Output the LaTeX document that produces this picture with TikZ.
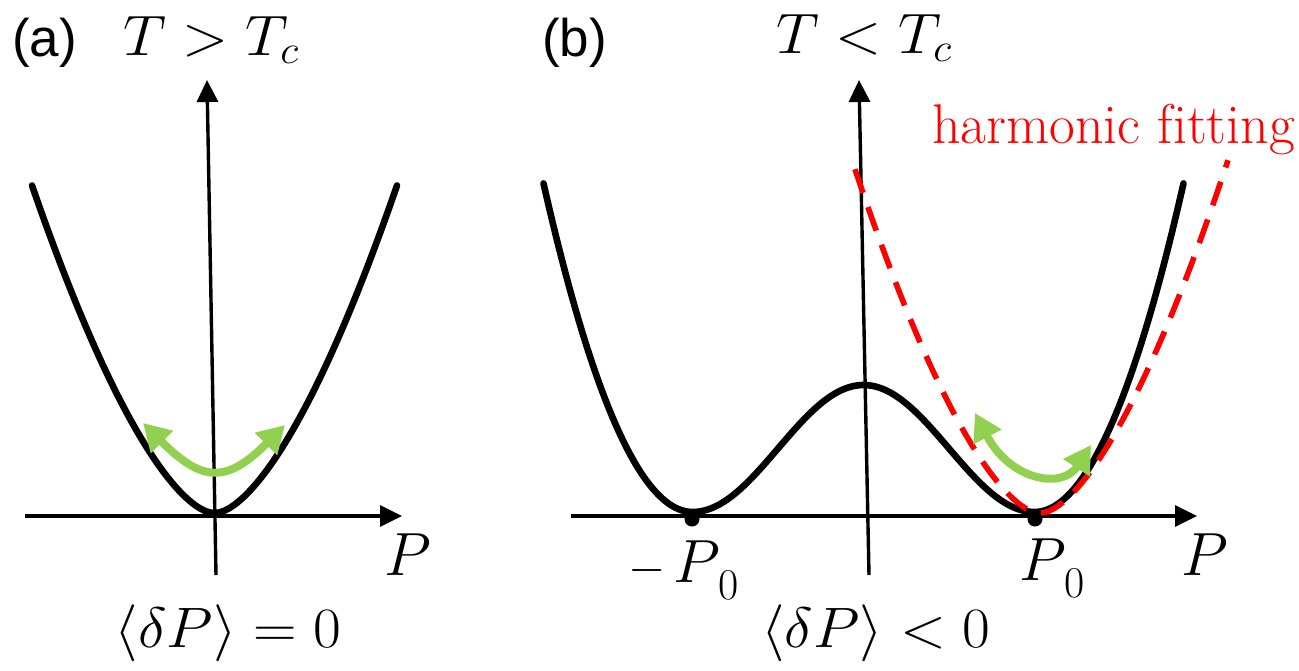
\RequirePackage{fix-cm}
\documentclass[tikz,border=0pt]{standalone}
\usepackage{fontspec}
\newfontfamily\sansf{Liberation Sans}
\usetikzlibrary{arrows.meta}
\definecolor{fitred}{RGB}{255,0,0}
\definecolor{oscgreen}{RGB}{146,208,80}
\tikzset{
  axisline/.style={line width=3.4pt,-{Triangle[length=22pt,width=21pt]}},
  potential/.style={line width=6.6pt,line join=round,line cap=round},
  fitline/.style={draw=fitred,line width=5.6pt,dash pattern=on 25pt off 15pt},
  oscarrow/.style={draw=oscgreen,line width=8pt,{Triangle[length=27pt,width=30pt]}-{Triangle[length=27pt,width=30pt]}},
  panellabel/.style={inner sep=0pt,anchor=base west,font=\sansf\fontsize{53}{60}\selectfont},
  mathlabel/.style={inner sep=0pt,anchor=base,font=\fontsize{57}{64}\selectfont},
  plabel/.style={inner sep=0pt,anchor=base west,font=\fontsize{61}{66}\selectfont},
  dot/.style={circle,fill=black,inner sep=0pt,minimum size=15pt}
}
\newcommand{\subzero}{\raisebox{-17pt}{\fontsize{44}{44}\selectfont 0}}
\begin{document}
\begin{tikzpicture}[x=1pt,y=-1pt]
\useasboundingbox (0,0) rectangle (1299,670);

% ---------- panel (a) ----------
\coordinate (ahl) at (25,516);
\coordinate (ahr) at (402,516);
\coordinate (avb) at (216,575);
\coordinate (avt) at (207,80);
\draw[axisline] (ahl) -- (ahr);
\draw[axisline] (avb) -- (avt);
\draw[potential] plot[domain=32:397,samples=120]
  (\x,{513-3.165*((((\x-214.5)/10)^2+1)^0.8-1)});
\coordinate (aol) at (143,423);
\coordinate (aor) at (285,425);
\draw[oscarrow] (aol) .. controls (202,482) and (226,484) .. (aor);

\node[panellabel] (la) at (12,56) {(a)};
\node[mathlabel] (ta) at (211,55) {\scalebox{1.06}[1]{$T>T_c$}};
\node[plabel] (pa) at (384,575) {$P$};
\node[mathlabel] (ea) at (228,647) {\scalebox{1.06}[1]{$\langle\delta P\rangle=0$}};

% ---------- panel (b) ----------
\coordinate (bhl) at (571,516);
\coordinate (bhr) at (1197,516);
\coordinate (bvb) at (869,575);
\coordinate (bvt) at (859,80);
\draw[axisline] (bhl) -- (bhr);
\draw[axisline] (bvb) -- (bvt);
\draw[potential] plot[domain=543.5:1183.5,samples=200]
  (\x,{abs(\x-863.5)<171 ? 512-63.5*(1+cos((\x-863.5)/171*180)) : 512-(0.0148*(abs(\x-863.5)-171))*(abs(\x-863.5)-171)});
\draw[fitline] plot[domain=855:1228,samples=150]
  (\x,{513-3.25*((((\x-1040)/10)^2+1)^0.8-1)});
\coordinate (bol) at (975,413);
\coordinate (bor) at (1091,445);
\draw[oscarrow] (bol) .. controls (1010,480) and (1062,490) .. (bor);
\node[dot] (mneg) at (692,519) {};
\node[dot] (mpos) at (1035,519) {};

\node[panellabel] (lb) at (542,56) {(b)};
\node[mathlabel] (tb) at (864,53) {\scalebox{1.06}[1]{$T<T_c$}};
\node[inner sep=0pt,anchor=base west,text=fitred,font=\fontsize{56}{60}\selectfont] (hf) at (932,143) {harmonic f\kern0pt itting};
\node[plabel] (pb) at (1181,575) {$P$};
\node[plabel] (pneg) at (628,582) {{\fontsize{48}{48}\selectfont$-$}\kern8pt$P$\kern-2pt\subzero};
\node[plabel] (ppos) at (1019,580) {$P$\kern-2pt\subzero};
\node[mathlabel] (eb) at (876,647) {\scalebox{1.06}[1]{$\langle\delta P\rangle<0$}};
\end{tikzpicture}
\end{document}
